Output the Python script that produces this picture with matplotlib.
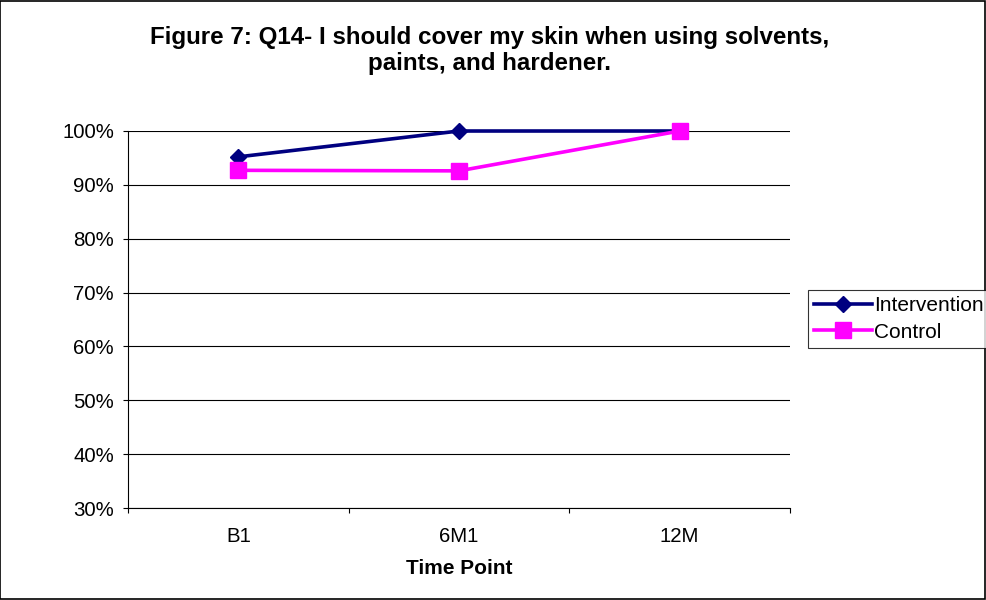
import matplotlib
matplotlib.use("Agg")
import matplotlib.pyplot as plt
from matplotlib.ticker import FixedLocator, PercentFormatter
from matplotlib.patches import Rectangle

categories = ["B1", "6M1", "12M"]
intervention = [95.2, 100.0, 100.0]
control = [92.7, 92.6, 100.0]
yticks = [30, 40, 50, 60, 70, 80, 90, 100]

plt.rcParams['font.family'] = ['Liberation Sans', 'DejaVu Sans']

fig = plt.figure(figsize=(9.86, 6.0), dpi=100)
fig.patches.append(Rectangle((0.0005, 0.001), 0.998, 0.997, transform=fig.transFigure,
                             fill=False, edgecolor='black', linewidth=1.2))
ax = fig.add_axes([128/986, 1-508/600, (790-128)/986, (508-131)/600])

x = list(range(len(categories)))
ax.plot(x, intervention, color='#000080', linewidth=2.6, marker='D', markersize=8.5,
        label='Intervention', zorder=3, clip_on=False)
ax.plot(x, control, color='#FF00FF', linewidth=2.6, marker='s', markersize=11,
        label='Control', zorder=4, clip_on=False)

ax.set_xlim(-0.5, 2.5)
ax.set_ylim(30, 100)
ax.set_yticks(yticks)
ax.yaxis.set_major_formatter(PercentFormatter(decimals=0))
ax.grid(axis='y', color='black', linewidth=0.8)
ax.set_axisbelow(True)

ax.set_xticks(x)
ax.set_xticklabels(categories)
ax.xaxis.set_minor_locator(FixedLocator([-0.5, 0.5, 1.5, 2.5]))
ax.tick_params(axis='x', which='major', length=0, pad=14, labelsize=14.7)
ax.tick_params(axis='x', which='minor', length=3.6, direction='out', width=0.8)
ax.tick_params(axis='y', length=3.6, direction='out', width=0.8, labelsize=14.7, pad=6.5)

for s in ['top', 'right']:
    ax.spines[s].set_visible(False)
for s in ['left', 'bottom']:
    ax.spines[s].set_linewidth(0.8)

ax.set_xlabel('Time Point', fontsize=15, fontweight='bold', labelpad=9)

fig.text(490/986, 1-50.5/600,
         'Figure 7: Q14- I should cover my skin when using solvents,\npaints, and hardener.',
         ha='center', va='center', fontsize=17.4, fontweight='bold', linespacing=1.17)

leg = fig.legend(loc='upper left', bbox_to_anchor=(808/986, 1-290/600),
                 frameon=True, fancybox=False, edgecolor='black', fontsize=15,
                 handlelength=2.75, handletextpad=0.1, borderpad=0.3, labelspacing=0.35,
                 borderaxespad=0)
leg.get_frame().set_linewidth(0.8)

fig.savefig('out.png', dpi=100)
